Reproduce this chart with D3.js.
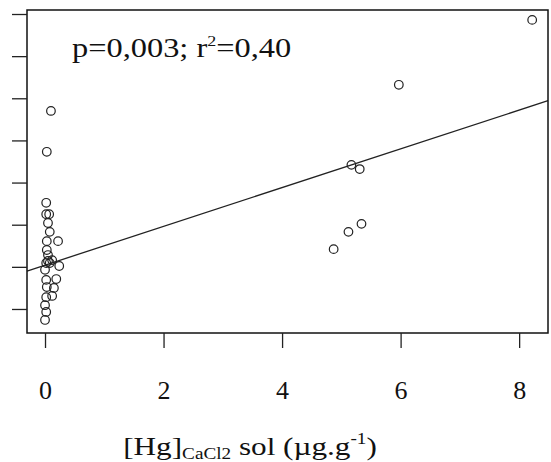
<!DOCTYPE html>
<html>
<head>
<meta charset="utf-8">
<script src="https://cdn.jsdelivr.net/npm/d3@7"></script>
<style>
  body { margin: 0; background: #fff; }
  svg text { font-family: "Liberation Serif", "DejaVu Serif", serif; fill: #111; }
</style>
</head>
<body>
<div id="chart"></div>
<script>
// [Hg] CaCl2 in soil (x) vs. response (y, tick labels cropped in the original)
var hgSoil = [8.22, 5.97, 5.17, 5.31, 5.34, 5.12, 4.87, 0.10, 0.03,
  0.02, 0.02, 0.07, 0.05, 0.08, 0.22, 0.03, 0.03, 0.05, 0.05, 0.12, 0.02,
  0.08, 0.24, 0.00, 0.19, 0.02, 0.03, 0.15, 0.12, 0.02, 0.00, 0.02, 0.00];
var response = [7.86, 6.32, 4.42, 4.32, 3.02, 2.83, 2.42, 5.70, 4.73,
  3.52, 3.25, 3.25, 3.04, 2.83, 2.61, 2.61, 2.40, 2.28, 2.14, 2.16, 2.09,
  2.09, 2.02, 1.93, 1.71, 1.69, 1.52, 1.50, 1.31, 1.28, 1.09, 0.93, 0.74];
var xTicks = [0, 2, 4, 6, 8];
var yTicks = [1, 2, 3, 4, 5, 6, 7, 8];
var fit = { intercept: 2.04, slope: 0.46 };
var statsLabel = ["p=0,003; r", "2", "=0,40"];

var width = 551, height = 462,
    margin = {top: 10, right: 3, bottom: 129, left: 27};

var svg = d3.select("#chart").append("svg")
    .attr("width", width)
    .attr("height", height);

var x = d3.scaleLinear()
    .domain([-0.304, 8.487])
    .range([margin.left, width - margin.right]);

var y = d3.scaleLinear()
    .domain([0.43, 8.095])
    .range([height - margin.bottom, margin.top]);

// regression line
var xd = x.domain();
svg.append("line")
    .attr("x1", x(xd[0])).attr("y1", y(fit.intercept + fit.slope * xd[0]))
    .attr("x2", x(xd[1])).attr("y2", y(fit.intercept + fit.slope * xd[1]))
    .attr("stroke", "#222")
    .attr("stroke-width", 1.3);

// points
svg.append("g")
  .selectAll("circle")
  .data(hgSoil)
  .enter().append("circle")
    .attr("cx", function(d) { return x(d); })
    .attr("cy", function(d, i) { return y(response[i]); })
    .attr("r", 4.3)
    .attr("fill", "none")
    .attr("stroke", "#222")
    .attr("stroke-width", 1.2);

// frame
svg.append("rect")
    .attr("x", margin.left)
    .attr("y", margin.top)
    .attr("width", width - margin.left - margin.right)
    .attr("height", height - margin.top - margin.bottom)
    .attr("fill", "none")
    .attr("stroke", "#111")
    .attr("stroke-width", 1.5);

// axes
var gx = svg.append("g")
    .attr("transform", "translate(0," + (height - margin.bottom) + ")")
    .call(d3.axisBottom(x).tickValues(xTicks).tickSize(15).tickPadding(33));
gx.select(".domain").remove();
gx.selectAll("line").attr("stroke", "#222").attr("stroke-width", 1.3);
gx.selectAll("text")
    .attr("font-size", 26)
    .attr("font-family", "Liberation Serif, serif")
    .attr("fill", "#111");

var gy = svg.append("g")
    .attr("transform", "translate(" + margin.left + ",0)")
    .call(d3.axisLeft(y).tickValues(yTicks).tickSize(15).tickFormat(""));
gy.select(".domain").remove();
gy.selectAll("line").attr("stroke", "#222").attr("stroke-width", 1.3);

// stats annotation (the original text is drawn a bit wider than the font)
var st = svg.append("text")
    .attr("transform", "translate(72,57) scale(1.2,1)")
    .attr("font-size", 27);
st.append("tspan").text(statsLabel[0]);
st.append("tspan").attr("font-size", 15).attr("dy", -11).text(statsLabel[1]);
st.append("tspan").attr("dy", 11).text(statsLabel[2]);

// x axis title
var xt = svg.append("text")
    .attr("transform", "translate(250,455) scale(1.2,1)")
    .attr("text-anchor", "middle")
    .attr("font-size", 26);
xt.append("tspan").text("[Hg]");
xt.append("tspan").attr("font-size", 16).attr("dy", 4).text("CaCl2");
xt.append("tspan").attr("dy", -4).text(" sol (\u00b5g.g");
xt.append("tspan").attr("font-size", 16).attr("dy", -11).text("-1");
xt.append("tspan").attr("dy", 11).text(")");
</script>
</body>
</html>
